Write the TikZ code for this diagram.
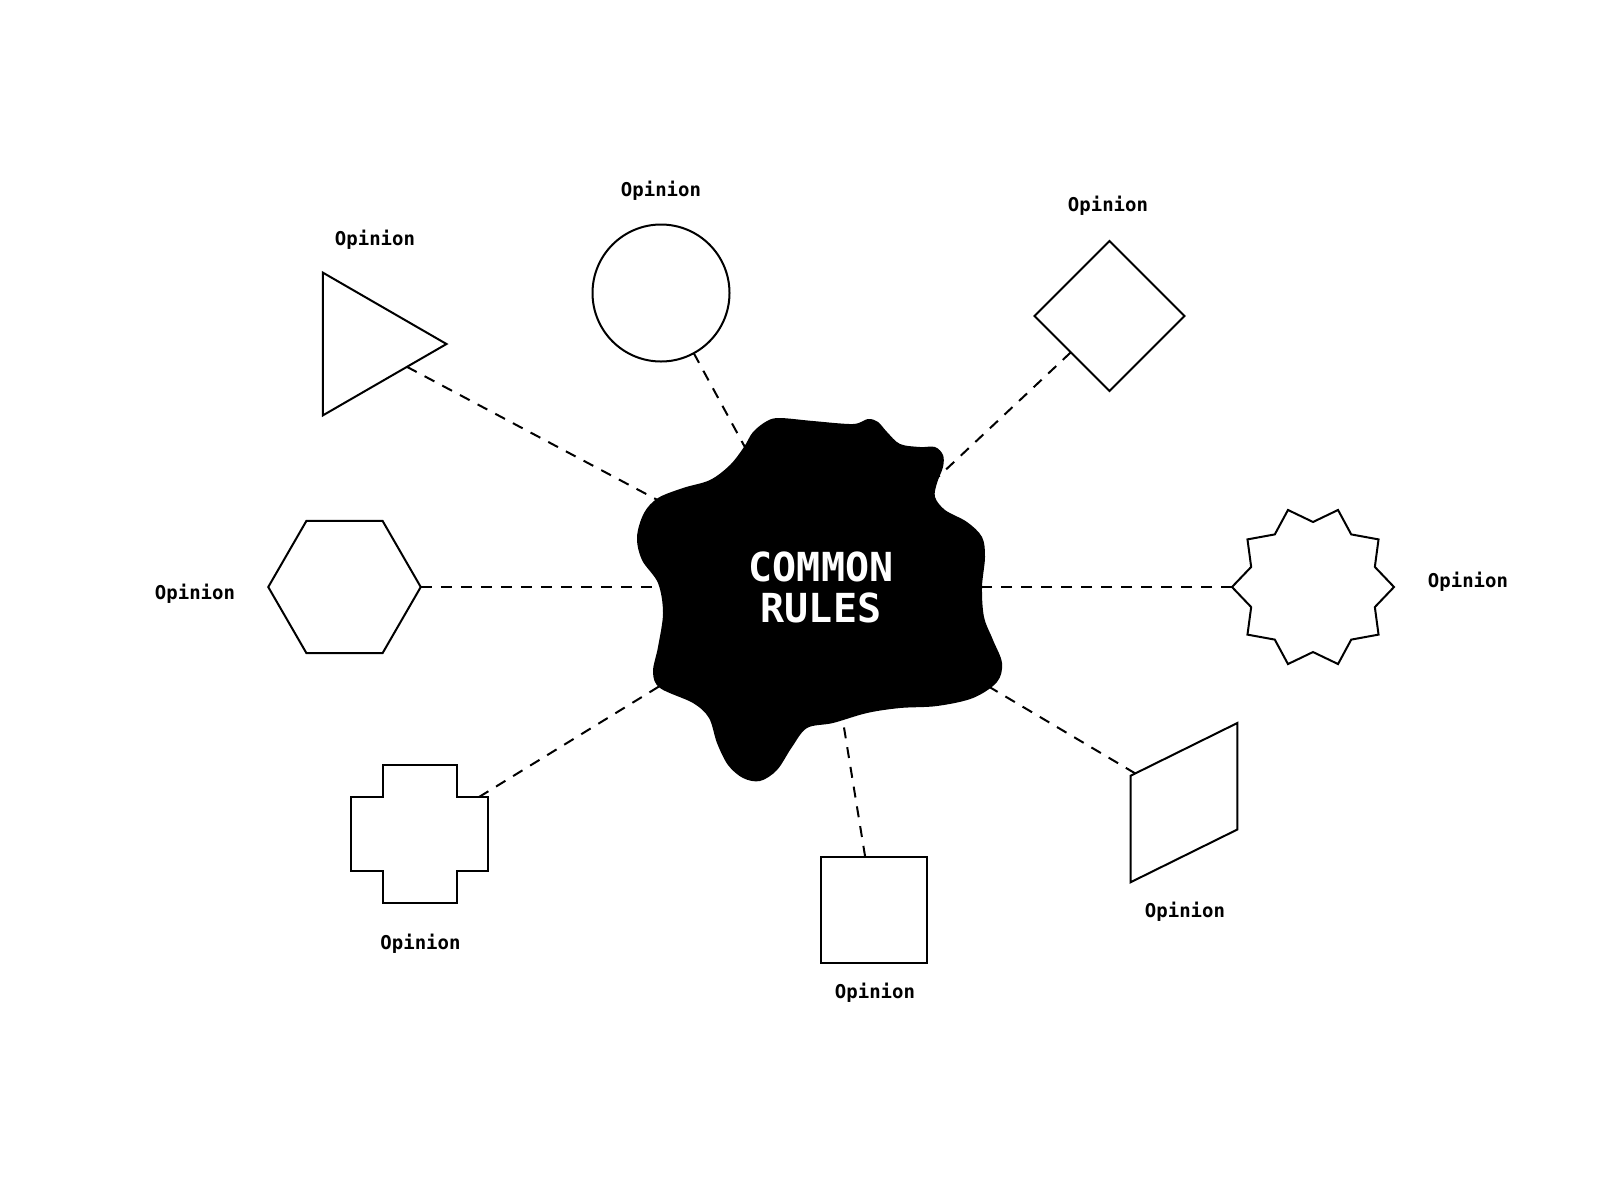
\documentclass[tikz,border=0pt]{standalone}
\usepackage{fontspec}
\setmonofont{DejaVu Sans Mono}
\usepackage{tikz}
\usetikzlibrary{shapes.geometric,backgrounds}
\definecolor{encre}{HTML}{000000}
\definecolor{papier}{HTML}{FFFFFF}
\tikzset{
  forme/.style={draw=encre,line width=2pt,inner sep=0pt,outer sep=0pt},
  etiquette/.style={font=\ttfamily\bfseries\fontsize{19}{23}\selectfont,inner sep=0pt,text=encre},
  lien/.style={draw=encre,line width=2pt,dash pattern=on 11pt off 9pt},
}

\begin{document}
\begin{tikzpicture}[x=1pt,y=-1pt]
  \useasboundingbox (0,0) rectangle (1624,1200);
  % la tache centrale
  \fill[encre] plot[smooth cycle,tension=0.55] coordinates {
    (753,432) (767,421) (780,418) (813,421) (853,424) (868,419) (878,422) (887,432)
    (900,444) (920,447) (935,447) (943,455) (943,467) (937,483) (935,497) (945,510)
    (967,522) (982,537) (985,557) (982,587) (984,617) (993,640) (1002,663) (997,682)
    (973,698) (937,706) (900,708) (867,713) (833,723) (807,728) (792,747) (777,770)
    (760,781) (743,778) (728,765) (717,743) (709,718) (693,703) (660,688) (653,672)
    (658,647) (663,613) (658,583) (642,560) (637,537) (644,513) (658,498) (683,488)
    (710,480) (730,465) (744,447)};
  \node[align=center,text=papier,inner sep=0pt,font=\ttfamily\bfseries\fontsize{40}{41}\selectfont] (regles) at (821,587) {COMMON\\RULES};
  % les formes
  \node[forme,regular polygon,regular polygon sides=3,minimum size=165pt,shape border rotate=-90] (triangle) at (364,344) {};
  \node[forme,circle,minimum size=137pt] (cercle) at (661,293) {};
  \node[forme,diamond,minimum width=150pt,minimum height=150pt] (losange) at (1109.5,316) {};
  \node[forme,regular polygon,regular polygon sides=6,minimum size=152.5pt] (hexagone) at (344.5,587) {};
  \node[forme,star,star points=10,star point ratio=1.246,minimum size=162pt,shape border rotate=18] (etoile) at (1313,587) {};
  \node[forme,rectangle,minimum size=106pt] (carre) at (873.8,909.7) {};
  \node[forme,rectangle,minimum width=106.6pt,minimum height=106.5pt,yslant=0.494] (para) at (1184,802.6) {};
  \draw[forme] (383,765) -- (457,765) -- (457,797) -- (488,797) -- (488,871) -- (457,871)
    -- (457,903) -- (383,903) -- (383,871) -- (351,871) -- (351,797) -- (383,797) -- cycle;
  \coordinate (croix) at (479,797);
  % les etiquettes
  \node[etiquette] (avis-triangle) at (375,240) {Opinion};
  \node[etiquette] (avis-cercle) at (661,191) {Opinion};
  \node[etiquette] (avis-losange) at (1108,206) {Opinion};
  \node[etiquette] (avis-hexagone) at (195,594) {Opinion};
  \node[etiquette] (avis-etoile) at (1468,582) {Opinion};
  \node[etiquette] (avis-croix) at (420.5,944) {Opinion};
  \node[etiquette] (avis-carre) at (875,993) {Opinion};
  \node[etiquette] (avis-para) at (1185,911.5) {Opinion};
  % les liens, sous la tache
  \begin{scope}[on background layer]
    \draw[lien] (triangle) -- (regles);
    \draw[lien] (cercle) -- (regles);
    \draw[lien] (losange) -- (regles);
    \draw[lien] (hexagone) -- (regles);
    \draw[lien] (etoile) -- (regles);
    \draw[lien] (carre) -- (regles);
    \draw[lien] (para) -- (regles);
    \draw[lien] (croix) -- (regles);
  \end{scope}
\end{tikzpicture}
\end{document}
